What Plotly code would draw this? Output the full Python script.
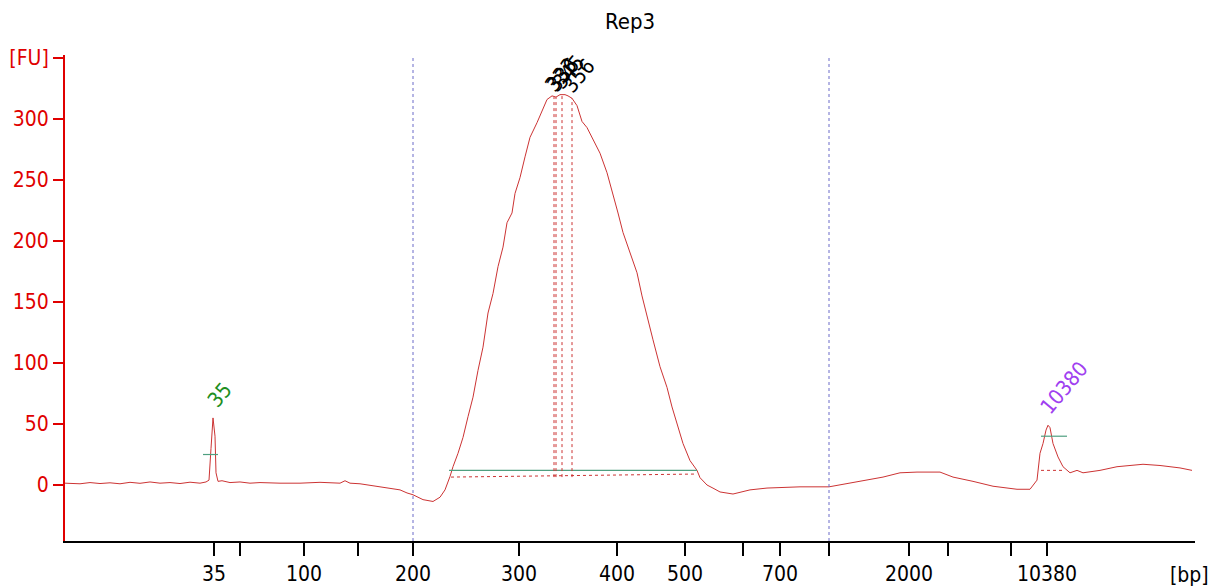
import plotly.graph_objects as go

# ---- data (migration time in s, fluorescence in FU) ----
time_s = [40.00, 40.75, 41.25, 41.75, 42.25, 42.75, 43.25, 43.75, 44.25, 44.75,
          45.25, 45.75, 46.25, 46.75, 47.05, 47.20, 47.30, 47.40, 47.50, 47.55,
          47.65, 47.85, 48.25, 48.75, 49.25, 49.75, 50.75, 51.75, 52.75, 53.75,
          54.00, 54.25, 54.75, 55.40, 56.25, 56.75, 57.10, 57.40, 57.90, 58.40,
          58.75, 59.00, 59.25, 59.40, 59.65, 59.90, 60.15, 60.40, 60.65, 60.90,
          61.15, 61.40, 61.65, 61.90, 62.10, 62.35, 62.50, 62.75, 63.00, 63.25,
          63.60, 63.85, 64.10, 64.35, 64.55, 64.75, 65.00, 65.15, 65.35, 65.60,
          65.85, 66.10, 66.40, 66.75, 67.10, 67.40, 67.65, 67.90, 68.25, 68.60,
          68.85, 69.10, 69.40, 69.75, 70.10, 70.35, 70.60, 70.90, 71.25, 71.60,
          71.75, 72.10, 72.45, 72.75, 73.40, 74.25, 75.10, 76.75, 78.20, 79.25,
          80.10, 80.90, 81.75, 82.60, 83.75, 84.40, 85.40, 86.40, 87.60, 88.25,
          88.60, 88.75, 88.90, 89.05, 89.15, 89.25, 89.40, 89.65, 89.90, 90.25,
          90.60, 90.90, 91.75, 92.60, 93.90, 94.75, 95.75, 96.35]
fu = [1.5, 1.0, 2.0, 1.2, 1.8, 1.0, 2.2, 1.4, 2.5, 1.5,
      2.0, 1.2, 2.3, 1.5, 2.5, 4.0, 30.0, 55.0, 40.0, 10.0,
      3.0, 3.5, 2.0, 2.5, 1.5, 2.0, 1.5, 1.5, 2.2, 1.5,
      3.5, 1.5, 1.0, -0.5, -2.5, -4.0, -6.5, -8.0, -12.0, -13.5,
      -10.0, -4.0, 7.0, 15.0, 26.0, 39.0, 56.0, 72.0, 94.0, 113.0,
      141.0, 157.0, 179.0, 195.0, 215.0, 223.0, 239.0, 252.0, 269.0, 285.0,
      297.0, 306.0, 316.0, 319.0, 318.0, 320.0, 320.0, 319.0, 317.0, 311.0,
      298.0, 293.0, 283.0, 272.0, 256.0, 239.0, 223.0, 207.0, 190.0, 174.0,
      155.0, 138.0, 119.0, 97.0, 80.0, 64.0, 51.0, 34.0, 20.0, 12.0,
      6.0, 0.0, -3.0, -5.7, -7.4, -4.0, -2.5, -1.5, -1.5, 1.6,
      4.0, 6.5, 10.0, 10.6, 10.6, 6.5, 3.0, -1.0, -3.5, -3.5,
      4.0, 26.0, 34.0, 45.0, 49.0, 47.0, 34.0, 23.0, 15.0, 10.0,
      12.0, 10.0, 12.0, 15.0, 17.0, 16.0, 14.0, 12.0]

# ladder ticks
tick_times = [47.45, 48.75, 51.95, 54.65, 57.40, 62.70, 67.60, 71.00, 73.90,
              75.75, 78.20, 82.20, 84.15, 87.30, 89.10]
tick_labels = ["35", "", "100", "", "200", "300", "400", "500", "",
               "700", "", "2000", "", "", "10380"]
y_ticks = [0, 50, 100, 150, 200, 250, 300, 350]
y_tick_labels = ["0", "50", "100", "150", "200", "250", "300", "[FU]"]

# region boundaries (blue dotted)
region_times = [57.40, 78.20]

# main-peak markers
peak_times = [64.45, 64.55, 64.85, 65.35]
peak_heights = [318.0, 318.0, 320.0, 317.0]
peak_labels = ["333", "336", "345", "356"]
main_start, main_end = 59.30, 71.60
main_base = [6.5, 9.0]
main_level = 12.0

# lower / upper markers
lower_time, lower_height, lower_label = 47.40, 55.0, "35"
lower_span, lower_level = [46.90, 47.65], 25.0
upper_time, upper_height, upper_label = 89.15, 49.0, "10380"
upper_span, upper_level = [88.80, 90.10], 40.0
upper_base_span, upper_base = [88.80, 89.90], 12.0

RED = "#e00000"
CURVE = "#cc3333"
GREEN = "#4f9f80"
FONT = "DejaVu Sans Condensed, Liberation Sans Narrow, DejaVu Sans, sans-serif"

fig = go.Figure()
fig.add_trace(go.Scatter(x=time_s, y=fu, mode="lines",
                         line=dict(color=CURVE, width=1), showlegend=False,
                         hoverinfo="skip"))

# region lines
for t in region_times:
    fig.add_shape(type="line", xref="x", yref="paper", x0=t, x1=t, y0=0, y1=1,
                  line=dict(color="#6a6ac8", width=1, dash="dot"))

# main peak baseline / level
fig.add_trace(go.Scatter(x=[main_start, main_end], y=main_base, mode="lines",
                         line=dict(color=CURVE, width=1, dash="dot"),
                         showlegend=False, hoverinfo="skip"))
fig.add_trace(go.Scatter(x=[main_start - 0.1, main_end], y=[main_level, main_level],
                         mode="lines", line=dict(color=GREEN, width=1.2),
                         showlegend=False, hoverinfo="skip"))
for t, h in zip(peak_times, peak_heights):
    fig.add_trace(go.Scatter(x=[t, t], y=[main_base[0], h], mode="lines",
                             line=dict(color=CURVE, width=1, dash="dot"),
                             showlegend=False, hoverinfo="skip"))
for t, h, lab in zip(peak_times, peak_heights, peak_labels):
    fig.add_annotation(x=t, y=h, text=lab, showarrow=False, textangle=-50,
                       xanchor="center", yanchor="bottom", yshift=-2, xshift=7,
                       font=dict(family=FONT, size=21, color="black"))

# lower marker
fig.add_trace(go.Scatter(x=lower_span, y=[lower_level, lower_level], mode="lines",
                         line=dict(color=GREEN, width=1.2), showlegend=False,
                         hoverinfo="skip"))
fig.add_annotation(x=lower_time, y=lower_height, text=lower_label, showarrow=False,
                   textangle=-50, xanchor="center", yanchor="bottom", yshift=3,
                   xshift=7,
                   font=dict(family=FONT, size=21, color="#1f8f1f"))

# upper marker
fig.add_trace(go.Scatter(x=upper_span, y=[upper_level, upper_level], mode="lines",
                         line=dict(color=GREEN, width=1.2), showlegend=False,
                         hoverinfo="skip"))
fig.add_trace(go.Scatter(x=upper_base_span, y=[upper_base, upper_base], mode="lines",
                         line=dict(color=CURVE, width=1, dash="dot"),
                         showlegend=False, hoverinfo="skip"))
fig.add_annotation(x=upper_time, y=upper_height, text=upper_label, showarrow=False,
                   textangle=-50, xanchor="center", yanchor="bottom", yshift=4,
                   xshift=16,
                   font=dict(family=FONT, size=21, color="#a040f0"))

# [bp] unit label
fig.add_annotation(x=1.0, xref="paper", y=0, yref="paper", text="[bp]",
                   showarrow=False, xanchor="right", yanchor="top", yshift=-20,
                   xshift=16,
                   font=dict(family=FONT, size=21, color="black"))

fig.update_layout(
    width=1208, height=579,
    margin=dict(l=57, r=21, t=47, b=46, autoexpand=False),
    paper_bgcolor="white", plot_bgcolor="white",
    title=dict(text="Rep3", x=0.5, xref="paper", xanchor="center",
               y=0.99, yref="container", yanchor="top",
               font=dict(family=FONT, size=22, color="black")),
    xaxis=dict(range=[40.0, 96.5], tickmode="array", tickvals=tick_times,
               ticktext=tick_labels, ticks="outside", ticklen=13, tickwidth=1.5,
               tickcolor="black", showline=True, linecolor="black", linewidth=2,
               showgrid=False, zeroline=False, automargin=False,
               tickfont=dict(family=FONT, size=21, color="black")),
    yaxis=dict(range=[-45.9, 352.5], tickmode="array", tickvals=y_ticks,
               ticktext=y_tick_labels, ticks="outside", ticklen=10, tickwidth=2,
               tickcolor=RED, showline=True, linecolor=RED, linewidth=2,
               showgrid=False, zeroline=False, automargin=False,
               tickfont=dict(family=FONT, size=21, color=RED)),
)

fig.write_html("out.html")
